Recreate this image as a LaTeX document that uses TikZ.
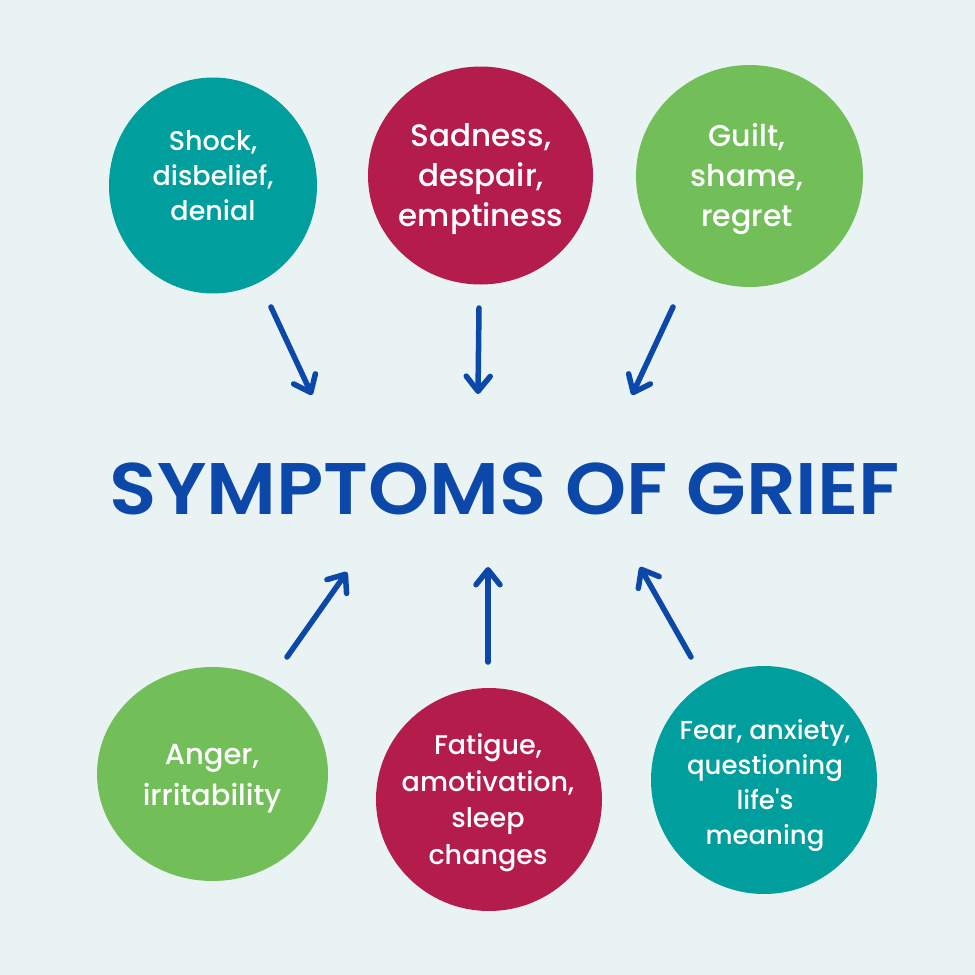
\documentclass[tikz,border=0pt]{standalone}
\usepackage{fontspec}
\usepackage{graphicx}
\setmainfont{Poppins}
\newfontfamily\medfont{Poppins Medium}
\newfontfamily\semifont{Poppins SemiBold}
\usetikzlibrary{arrows.meta,shapes.geometric}
\definecolor{bgc}{HTML}{EAF3F4}
\definecolor{tealc}{HTML}{019E9E}
\definecolor{crimc}{HTML}{B41C4B}
\definecolor{greenc}{HTML}{72BF5A}
\definecolor{bluec}{HTML}{0B48AA}
\tikzset{
  blob/.style={ellipse, inner sep=0pt, draw=none},
  txt/.style={align=center, text=white, inner sep=0pt},
  arr/.style={draw=bluec, line width=5.5pt, line cap=round, line join=round,
    -{Straight Barb[length=15pt,width=24pt,round]}}
}
\begin{document}
\begin{tikzpicture}[x=1pt,y=-1pt]
\fill[bgc] (0,0) rectangle (975,975);
\useasboundingbox (0,0) rectangle (975,975);

% blobs
\node[blob, fill=tealc,  minimum width=208pt, minimum height=216pt] (b1) at (213,185.5) {};
\node[blob, fill=crimc,  minimum width=225pt, minimum height=218pt] (b2) at (480.5,175.5) {};
\node[blob, fill=greenc, minimum width=227pt, minimum height=222pt] (b3) at (749.5,176) {};
\node[blob, fill=greenc, minimum width=231pt, minimum height=214pt] (b4) at (212.5,774) {};
\node[blob, fill=crimc,  minimum width=226pt, minimum height=223pt] (b5) at (489,799.5) {};
\node[blob, fill=tealc,  minimum width=226pt, minimum height=228pt] (b6) at (764,780) {};

% texts
\node[txt, font=\medfont\fontsize{27}{35}\selectfont] (t1) at (213,176) {Shock,\\disbelief,\\denial};
\node[txt, font=\medfont\fontsize{31}{40}\selectfont] (t2) at (481,179) {Sadness,\\despair,\\emptiness};
\node[txt, font=\medfont\fontsize{30}{40}\selectfont] (t3) at (747,179.5) {Guilt,\\shame,\\regret};
\node[txt, font=\medfont\fontsize{29}{41}\selectfont] (t4) at (212,778.5) {Anger,\\irritability};
\node[txt, font=\medfont\fontsize{27}{36.5}\selectfont] (t5) at (488,803) {Fatigue,\\amotivation,\\sleep\\changes};
\node[txt, font=\medfont\fontsize{26}{35}\selectfont] (t6) at (765,786) {Fear, anxiety,\\questioning\\life's\\meaning};

% title
\node[anchor=base, text=bluec, inner sep=0pt, font=\semifont\fontsize{73}{80}\selectfont] (title) at (505,514) {\resizebox{790pt}{\height}{SYMPTOMS OF GRIEF}};

% arrow ends
\coordinate (s1) at (271,307); \coordinate (e1) at (312,395);
\coordinate (s2) at (479,308); \coordinate (e2) at (478,394);
\coordinate (s3) at (673,307); \coordinate (e3) at (632,395);
\coordinate (s4) at (287,657); \coordinate (e4) at (347,572);
\coordinate (s5) at (488,662); \coordinate (e5) at (488,567);
\coordinate (s6) at (691,657); \coordinate (e6) at (640,567);
\foreach \i in {1,...,6} \draw[arr] (s\i) -- (e\i);
\end{tikzpicture}
\end{document}
